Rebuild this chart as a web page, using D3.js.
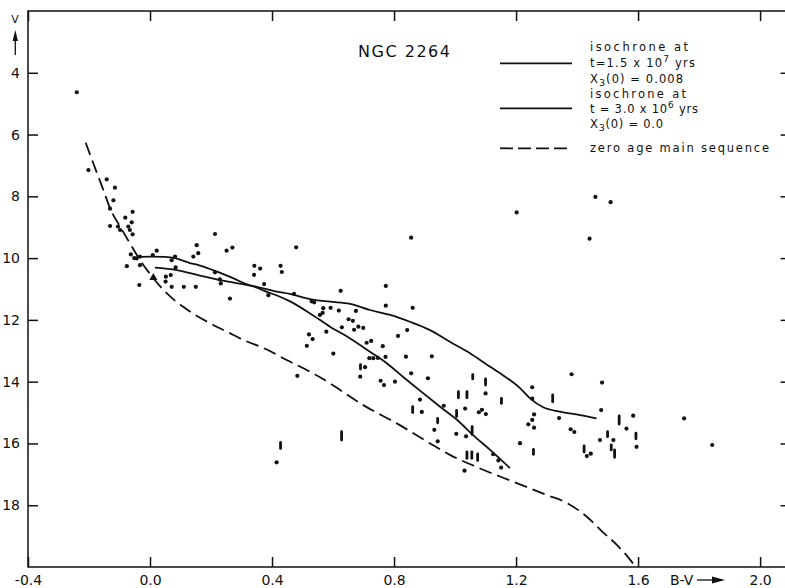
<!DOCTYPE html>
<html><head><meta charset="utf-8">
<script src="https://cdnjs.cloudflare.com/ajax/libs/d3/7.8.5/d3.min.js"></script>
<style>
body{margin:0;background:#fff}
svg{display:block}
text{font-family:"DejaVu Sans",sans-serif;fill:#111}
</style></head><body>
<script>
// ---- data (B-V colour, V magnitude) ----
const dotBV = [-0.240,-0.202,-0.142,-0.115,-0.120,-0.131,-0.057,-0.081,-0.060,-0.131,-0.105,-0.098,-0.071,-0.066,-0.057,-0.063,-0.044,-0.033,-0.052,-0.076,-0.033,0.009,0.022,0.071,0.082,0.142,0.153,0.158,0.084,0.068,0.052,0.051,0.071,0.111,0.150,-0.035,0.213,0.251,0.270,0.479,0.342,0.361,0.341,0.428,0.432,0.213,0.229,0.232,0.374,0.262,0.388,0.472,0.625,0.530,0.538,0.568,0.566,0.557,0.592,0.619,0.651,0.578,0.629,0.521,0.533,0.514,0.773,0.773,0.861,0.675,0.665,0.669,0.683,0.699,0.843,0.813,0.710,0.725,0.763,0.601,0.719,0.732,0.747,0.772,0.839,0.924,0.705,0.689,0.856,0.911,0.756,0.767,0.803,1.100,0.885,0.891,0.963,1.033,1.078,1.088,1.101,0.932,1.004,1.036,0.943,1.031,1.125,1.142,1.151,1.382,1.253,1.253,1.482,1.479,1.259,1.253,1.240,1.259,1.341,1.379,1.391,1.584,1.562,1.475,1.519,1.213,1.432,1.445,1.595,1.751,1.843,1.460,1.510,1.441,1.202,0.856,0.483,0.415];
const dotV  = [4.63,7.15,7.45,7.72,8.13,8.40,8.50,8.69,8.84,8.96,8.98,9.09,8.98,9.09,9.23,9.88,10.01,9.95,10.00,10.26,10.23,9.90,9.76,10.07,9.95,9.95,9.58,9.84,10.30,10.55,10.60,10.76,10.93,10.93,10.93,10.87,9.22,9.76,9.66,9.65,10.25,10.34,10.54,10.25,10.45,10.46,10.69,10.82,10.84,11.31,11.20,11.16,11.06,11.40,11.43,11.62,11.77,11.84,11.61,11.70,11.98,12.38,12.24,12.47,12.62,12.84,10.90,11.54,11.61,11.71,12.03,12.32,12.22,12.26,12.33,12.52,12.74,12.68,12.85,13.09,13.24,13.24,13.23,13.20,13.19,13.18,13.53,13.84,13.73,13.89,13.97,14.11,14.00,14.38,14.58,14.98,14.78,14.87,14.99,14.91,15.05,15.56,15.69,15.77,15.93,16.88,16.35,16.55,16.78,13.76,14.18,14.55,14.03,14.92,15.06,15.24,15.38,15.49,15.18,15.54,15.63,15.10,15.52,15.89,15.89,15.99,16.41,16.33,16.11,15.19,16.05,8.02,8.19,9.37,8.52,9.34,13.81,16.61];

// variable stars: drawn as short vertical bars (range of V)
const barBV  = [0.690,1.058,1.100,1.011,1.039,0.861,1.005,0.943,1.056,0.628,1.039,1.055,1.074,1.152,1.320,1.538,1.500,1.593,1.257,1.423,1.512,1.523,0.428];
const barVlo = [13.45,13.77,13.91,14.32,14.32,14.81,14.93,15.19,15.46,15.62,16.27,16.27,16.34,14.54,14.43,15.11,15.62,15.67,16.19,16.08,16.05,16.21,15.97];
const barVhi = [13.59,13.91,14.11,14.52,14.52,15.00,15.13,15.33,15.71,15.89,16.48,16.48,16.55,14.70,14.65,15.37,15.78,15.85,16.35,16.28,16.21,16.45,16.16];

const triBV = [0.011];
const triV  = [10.63];

// isochrone t = 1.5e7 yrs
const isoA_BV = [-0.043,0.000,0.049,0.082,0.131,0.164,0.220,0.272,0.318,0.348,0.377,0.416,0.459,0.525,0.590,0.656,0.721,0.777,0.829,0.885,0.951,1.007,1.059,1.115,1.180];
const isoA_V  = [9.96,9.95,9.96,10.00,10.16,10.24,10.44,10.65,10.85,10.95,11.07,11.21,11.40,11.79,12.22,12.60,13.03,13.41,13.84,14.29,14.81,15.24,15.73,16.21,16.80];
// isochrone t = 3.0e6 yrs
const isoB_BV = [0.016,0.088,0.164,0.229,0.350,0.404,0.459,0.525,0.590,0.656,0.721,0.787,0.852,0.918,0.983,1.049,1.115,1.148,1.213,1.246,1.289,1.344,1.410,1.464];
const isoB_V  = [10.31,10.39,10.57,10.71,10.93,11.06,11.16,11.33,11.41,11.48,11.68,11.84,12.06,12.33,12.71,13.08,13.52,13.73,14.21,14.54,14.83,14.97,15.08,15.19];
// zero age main sequence
const zams_BV = [-0.211,-0.186,-0.153,-0.131,-0.098,-0.066,-0.033,0.011,0.044,0.131,0.197,0.262,0.295,0.383,0.448,0.525,0.590,0.623,0.699,0.809,0.918,0.983,1.082,1.191,1.301,1.367,1.433,1.479,1.531,1.567,1.590];
const zams_V  = [6.26,6.93,7.79,8.39,8.98,9.52,10.06,10.65,11.03,11.73,12.11,12.43,12.60,12.96,13.30,13.68,14.05,14.27,14.76,15.35,16.00,16.37,16.81,17.24,17.67,17.93,18.38,18.82,19.29,19.68,19.97];

const xTicks = [-0.4,0.0,0.4,0.8,1.2,1.6,2.0];
const xTickLabels = ["-0.4","0.0","0.4","0.8","1.2","1.6","2.0"];
const yTicks = [4,6,8,10,12,14,16,18];

// ---- drawing ----
const W = 785, H = 588;
const svg = d3.select("body").append("svg").attr("width", W).attr("height", H);
const x = d3.scaleLinear().domain([-0.4, 2.1]).range([28, 790.6]);
const y = d3.scaleLinear().domain([2, 20]).range([11, 567]);
const ink = "#111";

// frame
svg.append("rect").attr("x", x(-0.4)).attr("y", y(2)).attr("width", x(2.1) - x(-0.4)).attr("height", y(20) - y(2))
  .attr("fill", "none").attr("stroke", ink).attr("stroke-width", 1.5);

function styleAxis(g) {
  g.select(".domain").remove();
  g.selectAll(".tick line").attr("stroke", ink).attr("stroke-width", 1.5);
  g.selectAll(".tick text").attr("fill", ink).style("font-size", "14px").style("font-family", "DejaVu Sans, sans-serif");
}
svg.append("g").attr("transform", `translate(0,${y(20)})`)
  .call(d3.axisBottom(x).tickValues(xTicks).tickFormat((d, i) => xTickLabels[i]).tickSize(-10).tickPadding(8))
  .call(styleAxis);
svg.append("g").attr("transform", `translate(0,${y(2)})`)
  .call(d3.axisTop(x).tickValues(xTicks).tickFormat("").tickSize(-10))
  .call(styleAxis);
svg.append("g").attr("transform", `translate(${x(-0.4)},0)`)
  .call(d3.axisLeft(y).tickValues(yTicks).tickFormat(d3.format("d")).tickSize(-10).tickPadding(8))
  .call(styleAxis);
svg.append("g").attr("transform", `translate(${x(2.1)},0)`)
  .call(d3.axisRight(y).tickValues(yTicks).tickFormat("").tickSize(-10))
  .call(styleAxis);

// curves
const line = d3.line().x(d => x(d[0])).y(d => y(d[1])).curve(d3.curveMonotoneX);
const pairs = (a, b) => a.map((v, i) => [v, b[i]]);
svg.append("path").attr("d", line(pairs(zams_BV, zams_V))).attr("fill", "none").attr("stroke", ink)
  .attr("stroke-width", 1.8).attr("stroke-dasharray", "13,6");
svg.append("path").attr("d", line(pairs(isoA_BV, isoA_V))).attr("fill", "none").attr("stroke", ink).attr("stroke-width", 1.8);
svg.append("path").attr("d", line(pairs(isoB_BV, isoB_V))).attr("fill", "none").attr("stroke", ink).attr("stroke-width", 1.8);

// stars
svg.append("g").selectAll("circle").data(d3.range(dotBV.length)).join("circle")
  .attr("cx", i => x(dotBV[i])).attr("cy", i => y(dotV[i])).attr("r", 2.1).attr("fill", ink);
svg.append("g").selectAll("line").data(d3.range(barBV.length)).join("line")
  .attr("x1", i => x(barBV[i])).attr("x2", i => x(barBV[i]))
  .attr("y1", i => y(barVlo[i])).attr("y2", i => y(barVhi[i]))
  .attr("stroke", ink).attr("stroke-width", 2.8).attr("stroke-linecap", "round");
svg.append("g").selectAll("path").data(d3.range(triBV.length)).join("path")
  .attr("transform", i => `translate(${x(triBV[i])},${y(triV[i])})`)
  .attr("d", d3.symbol(d3.symbolTriangle, 28)).attr("fill", ink);

// axis titles
svg.append("text").attr("x", 15).attr("y", 23).attr("text-anchor", "middle").style("font-size", "11px").text("V");
svg.append("line").attr("x1", 15.3).attr("x2", 15.3).attr("y1", 55).attr("y2", 38).attr("stroke", ink).attr("stroke-width", 1.3);
svg.append("path").attr("d", "M15.3,30 L12.6,41 L18,41 Z").attr("fill", ink);

svg.append("text").attr("x", 670).attr("y", 585).style("font-size", "14px").text("B-V");
svg.append("line").attr("x1", 697).attr("x2", 714).attr("y1", 580).attr("y2", 580).attr("stroke", ink).attr("stroke-width", 1.3);
svg.append("path").attr("d", "M725,580 L712,576.5 L712,583.5 Z").attr("fill", ink);

// title
svg.append("text").attr("x", 358).attr("y", 57).style("font-size", "16px")
  .attr("textLength", 92).attr("lengthAdjust", "spacing").text("NGC 2264");

// legend
const lg = svg.append("g");
lg.append("line").attr("x1", 500).attr("x2", 572).attr("y1", 63.3).attr("y2", 63.3).attr("stroke", ink).attr("stroke-width", 1.8);
lg.append("line").attr("x1", 500).attr("x2", 572).attr("y1", 108.3).attr("y2", 108.3).attr("stroke", ink).attr("stroke-width", 1.8);
lg.append("line").attr("x1", 500).attr("x2", 572).attr("y1", 148.3).attr("y2", 148.3).attr("stroke", ink).attr("stroke-width", 1.8).attr("stroke-dasharray", "13,5");

function ltext(yb, len) {
  return lg.append("text").attr("x", 590).attr("y", yb).style("font-size", "11.5px")
    .attr("textLength", len).attr("lengthAdjust", "spacing");
}
ltext(51, 98).text("isochrone at");
{
  const t = ltext(67, 105);
  t.append("tspan").text("t=1.5 x 10");
  t.append("tspan").attr("dy", -5).style("font-size", "9px").text("7");
  t.append("tspan").attr("dy", 5).text(" yrs");
}
{
  const t = ltext(83, 93);
  t.append("tspan").text("X");
  t.append("tspan").attr("dy", 3).style("font-size", "9.5px").text("3");
  t.append("tspan").attr("dy", -3).text("(0) = 0.008");
}
ltext(97.5, 96).text("isochrone at");
{
  const t = ltext(112.5, 108);
  t.append("tspan").text("t = 3.0 x 10");
  t.append("tspan").attr("dy", -5).style("font-size", "9px").text("6");
  t.append("tspan").attr("dy", 5).text(" yrs");
}
{
  const t = ltext(128, 73);
  t.append("tspan").text("X");
  t.append("tspan").attr("dy", 3).style("font-size", "9.5px").text("3");
  t.append("tspan").attr("dy", -3).text("(0) = 0.0");
}
ltext(151.5, 179).text("zero age main sequence");
</script>
</body></html>
